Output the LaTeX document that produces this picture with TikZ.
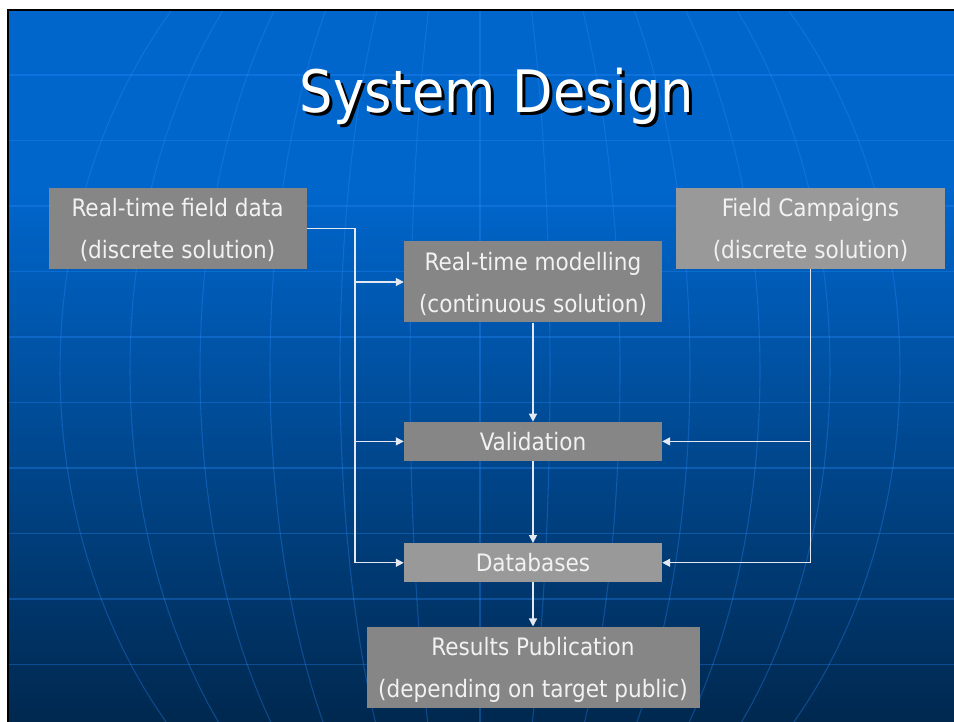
\documentclass[tikz,border=0pt]{standalone}
\usepackage{fontspec}
\setmainfont{DejaVu Sans Condensed}
\usetikzlibrary{arrows.meta, positioning}

\definecolor{slidetop}{HTML}{0066CC}
\definecolor{slidebot}{HTML}{00284F}
\definecolor{gridline}{HTML}{2A8CFF}
\definecolor{boxdark}{HTML}{868686}
\definecolor{boxlight}{HTML}{999999}
\definecolor{boxtext}{HTML}{F2F2F2}
\definecolor{wire}{HTML}{E4E8F0}

\begin{document}
\begin{tikzpicture}[
  x=1pt, y=1pt,
  node distance=99pt,
  box/.style={rectangle, fill=boxdark, text=boxtext, inner sep=0pt,
              minimum width=258pt, minimum height=81pt, align=center,
              font=\fontsize{24}{42}\selectfont,
              text height=60.4pt, text depth=0pt},
  onerow/.style={box, minimum height=39pt, text height=17.5pt, text depth=0pt},
  link/.style={wire, line width=1.4pt},
  arrow/.style={link, -{Triangle[length=8pt, width=8pt]}},
  globe/.style={gridline, line width=1.1pt, opacity=0.32},
  headline/.style={font=\fontsize{58.5}{66}\selectfont, anchor=base},
]
  \useasboundingbox (0,0) rectangle (954,722);
  \fill[white] (0,0) rectangle (954,722);
  \fill[black] (7,0) rectangle (954,713);
  \fill[slidetop] (9,531) rectangle (954,711);
  \shade[top color=slidetop, bottom color=slidebot] (9,0) rectangle (954,532);

  % latitude and meridian lines of the backdrop
  \begin{scope}
    \clip (9,0) rectangle (954,711);
    \foreach \k in {0,...,9}
      \draw[globe] (9,{647-65.5*\k}) -- (954,{647-65.5*\k});
    \foreach \xe in {60,130,...,900}
      \draw[globe] plot[domain=0:711, samples=40, variable=\yy]
        ({480+(\xe-480)*sqrt(1-((\yy-352)/530)^2)}, \yy);
  \end{scope}

  \node[headline, text=black] (titleshadow) at (500,606) {System Design};
  \node[headline, text=white] (title) at (497,609) {System Design};

  \node[box] (field) at (177.5,493.5) {Real-time field data\\(discrete solution)};
  \node[box, fill=boxlight, minimum width=269pt] (campaign) at (810.5,493.5) {Field Campaigns\\(discrete solution)};
  \node[box] (model) at (533,440) {Real-time modelling\\(continuous solution)};
  \node[onerow, below=99pt of model] (valid) {Validation};
  \node[onerow, fill=boxlight, below=82pt of valid] (dbase) {Databases};
  \node[box, minimum width=333pt, below=44pt of dbase] (publish) {Results Publication\\(depending on target public)};

  \coordinate (lbus) at (355,0);
  \draw[arrow] (field.east) -| (lbus |- dbase.west) -- (dbase.west);
  \draw[arrow] (lbus |- model.west) -- (model.west);
  \draw[arrow] (lbus |- valid.west) -- (valid.west);
  \draw[arrow] (campaign.south) |- (dbase.east);
  \draw[arrow] (campaign.south |- valid.east) -- (valid.east);
  \draw[arrow] (model) -- (valid);
  \draw[arrow] (valid) -- (dbase);
  \draw[arrow] (dbase) -- (publish);
\end{tikzpicture}
\end{document}
